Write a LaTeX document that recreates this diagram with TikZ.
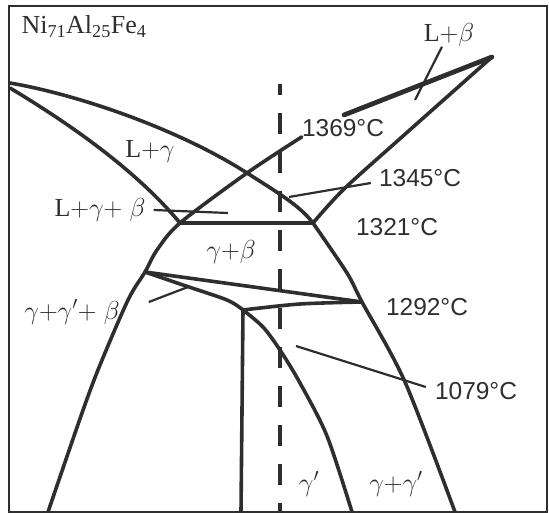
\RequirePackage{fix-cm}
\documentclass[tikz,border=0pt]{standalone}
\usepackage{fontspec}
\setmainfont{Liberation Serif}
\newfontfamily\numfont{Liberation Sans}
\definecolor{ink}{HTML}{2E2E2E}

\begin{document}
\begin{tikzpicture}[x=1pt, y=-1pt, color=ink,
        phase/.style={line width=3.6pt, line join=round, line cap=round},
        leader/.style={line width=2.2pt},
        temp/.style={font=\numfont\fontsize{24.5}{26}\selectfont, inner sep=0pt},
        region/.style={font=\fontsize{26}{28}\selectfont, inner sep=0pt}]
    \useasboundingbox (0,0) rectangle (549,513);
    \draw[line width=2pt] (9,6) rectangle (547,512);
    % labels
    \node[region] (title) at (84,27) {Ni\textsubscript{71}Al\textsubscript{25}Fe\textsubscript{4}};
    \node[region] (lb) at (449,35) {L$+\beta$};
    \node[temp] (t1369) at (343,128) {1369°C};
    \node[region] (lg) at (150,152) {L$+\gamma$};
    \node[temp] (t1345) at (420,178) {1345°C};
    \node[region] (lgb) at (100,210) {L$+\gamma{+}\;\beta$};
    \node[temp] (t1321) at (397,227) {1321°C};
    \node[region] (gb) at (231,252) {$\gamma{+}\beta$};
    \node[region] (ggb) at (72,312) {$\gamma{+}\gamma'{+}\;\beta$};
    \node[temp] (t1292) at (427,307) {1292°C};
    \node[temp] (t1079) at (476,391) {1079°C};
    \node[region] (gp) at (309,484) {$\gamma'$};
    \node[region] (ggp) at (396,484) {$\gamma{+}\gamma'$};
    % invariant points
    \coordinate (apex) at (492,57);
    \coordinate (lj) at (180,223);
    \coordinate (rj) at (313,223);
    \coordinate (llj) at (145,272);
    \coordinate (p1292) at (362,302);
    \coordinate (q) at (243,310);
    \coordinate (cross) at (247,173);
    % section line
    \draw[line width=3.2pt, dash pattern=on 21pt off 18pt, dash phase=10pt] (280,84) -- (280,512);
    % liquidus and gamma solvus
    \draw[phase] (10,83) .. controls (80,95) and (180,130) .. (cross) .. controls (280,194) and (300,206) .. (rj);
    \draw[phase] plot[smooth] coordinates {(rj) (347,273) (p1292) (405,382) (455,512)};
    \draw[phase] (10,88) .. controls (80,130) and (140,175) .. (lj);
    \draw[phase] plot[smooth] coordinates {(t1369.south west) (cross) (lj) (157,250) (llj) (128,300) (100,365) (82,413) (48,512)};
    % L+beta wedge
    \draw[line width=4.8pt, line cap=round] (apex) -- (344,115);
    \draw[phase] plot[smooth] coordinates {(apex) (403,136) (344,189) (rj)};
    \draw[line width=3.8pt] (lj) -- (rj);
    % gamma' region
    \draw[phase] (llj) -- (p1292);
    \draw[phase] plot[smooth] coordinates {(llj) (183,285) (227,300) (q)};
    \draw[phase] plot[smooth] coordinates {(q) (300,304) (p1292)};
    \draw[phase] (q) -- (241,512);
    \draw[phase] plot[smooth] coordinates {(q) (263,327) (280,350) (300,383) (327,436) (352,512)};
    % leaders
    \coordinate (lbtip) at (415,100);
    \coordinate (lgbtip) at (228,213);
    \coordinate (t1345tip) at (289,197);
    \coordinate (ggbtip) at (188,287);
    \coordinate (t1079tip) at (296,346);
    \draw[leader] ([xshift=-7pt]lb.south) -- (lbtip);
    \draw[leader] ([xshift=8pt]lgb.east) -- (lgbtip);
    \draw[leader] ([xshift=-8pt,yshift=-5pt]t1345.west) -- (t1345tip);
    \draw[leader] ([xshift=29pt,yshift=10pt]ggb.east) -- (ggbtip);
    \draw[leader] ([xshift=-9pt,yshift=4pt]t1079.west) -- (t1079tip);
\end{tikzpicture}
\end{document}
